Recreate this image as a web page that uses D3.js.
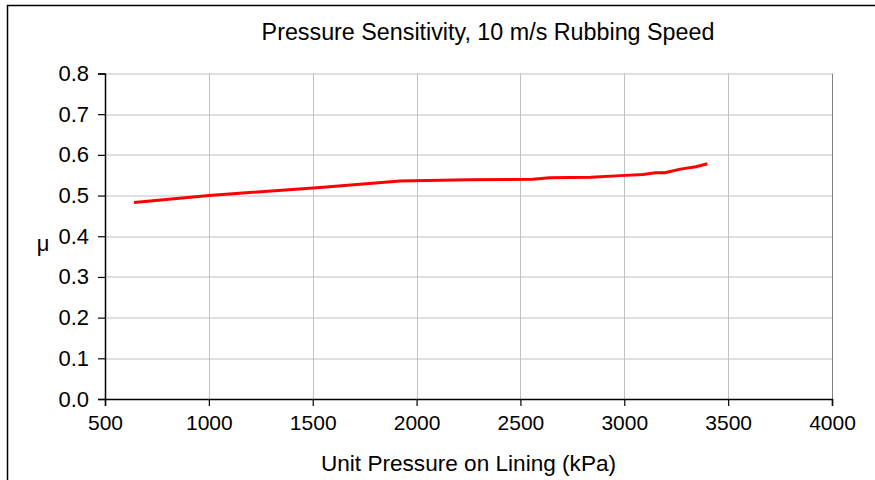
<!DOCTYPE html>
<html>
<head>
<meta charset="utf-8">
<script src="https://cdn.jsdelivr.net/npm/d3@7"></script>
<style>
  body { margin: 0; background: #fff; }
  text { font-family: "Liberation Sans", Arial, sans-serif; fill: #000; }
</style>
</head>
<body>
<div id="chart"></div>
<script>
const pressure = [640, 1000, 1535, 1920, 2250, 2560, 2640, 2840, 2980, 3090, 3150, 3195, 3270, 3345, 3400];
const mu = [0.483, 0.500, 0.520, 0.536, 0.539, 0.540, 0.544, 0.545, 0.549, 0.552, 0.556, 0.556, 0.565, 0.571, 0.578];
const xTicks = [500, 1000, 1500, 2000, 2500, 3000, 3500, 4000];
const yTicks = [0, 0.1, 0.2, 0.3, 0.4, 0.5, 0.6, 0.7, 0.8];

const W = 875, H = 480;
const margin = { top: 73.5, right: 43, bottom: 81, left: 105 };
const width = W - margin.left - margin.right;
const height = H - margin.top - margin.bottom;

const root = d3.select("#chart").append("svg")
  .attr("width", W)
  .attr("height", H);

// outer chart frame
root.append("rect")
  .attr("x", 7.5).attr("y", 5.5)
  .attr("width", 880).attr("height", 500)
  .attr("fill", "none")
  .attr("stroke", "#000")
  .attr("stroke-width", 1.5);

const svg = root.append("g")
  .attr("transform", `translate(${margin.left},${margin.top})`);

const x = d3.scaleLinear().domain([500, 4000]).range([0, width]);
const y = d3.scaleLinear().domain([0, 0.8]).range([height, 0]);

// gridlines
svg.append("g")
  .selectAll("line.h")
  .data(yTicks.slice(1))
  .join("line")
  .attr("x1", 0).attr("x2", width)
  .attr("y1", d => Math.round(y(d)) + 0.5).attr("y2", d => Math.round(y(d)) + 0.5)
  .attr("stroke", "#c0c0c0");

svg.append("g")
  .selectAll("line.v")
  .data(xTicks.slice(1))
  .join("line")
  .attr("x1", d => Math.round(x(d)) + 0.5).attr("x2", d => Math.round(x(d)) + 0.5)
  .attr("y1", 0).attr("y2", height)
  .attr("stroke", d => d === 4000 ? "#808080" : "#c0c0c0");

// axes
const xAxis = svg.append("g")
  .attr("transform", `translate(0,${height})`)
  .call(d3.axisBottom(x).tickValues(xTicks).tickFormat(d3.format("d")).tickSize(7).tickPadding(9));

const yAxis = svg.append("g")
  .call(d3.axisLeft(y).tickValues(yTicks).tickFormat(d3.format(".1f")).tickSize(7).tickPadding(9));

[xAxis, yAxis].forEach(g => {
  g.select(".domain").attr("stroke", "#000").attr("stroke-width", 1.5);
  g.selectAll(".tick line").attr("stroke", "#000").attr("stroke-width", 1.2);
  g.selectAll(".tick text").style("font-size", "21px").style("font-family", "Liberation Sans, Arial, sans-serif");
});
yAxis.selectAll(".tick text").style("font-size", "22px");

// data line
const pts = pressure.map((p, i) => [p, mu[i]]);
svg.append("path")
  .datum(pts)
  .attr("fill", "none")
  .attr("stroke", "#ff0000")
  .attr("stroke-width", 3)
  .attr("stroke-linejoin", "round")
  .attr("d", d3.line().x(d => x(d[0])).y(d => y(d[1])));

// titles
root.append("text")
  .attr("x", 488).attr("y", 40)
  .attr("text-anchor", "middle")
  .style("font-size", "23.3px")
  .text("Pressure Sensitivity, 10 m/s Rubbing Speed");

root.append("text")
  .attr("x", margin.left + width / 2).attr("y", 471)
  .attr("text-anchor", "middle")
  .style("font-size", "22.6px")
  .text("Unit Pressure on Lining (kPa)");

root.append("text")
  .attr("x", 43).attr("y", 251)
  .attr("text-anchor", "middle")
  .style("font-size", "22px")
  .text("μ");
</script>
</body>
</html>
